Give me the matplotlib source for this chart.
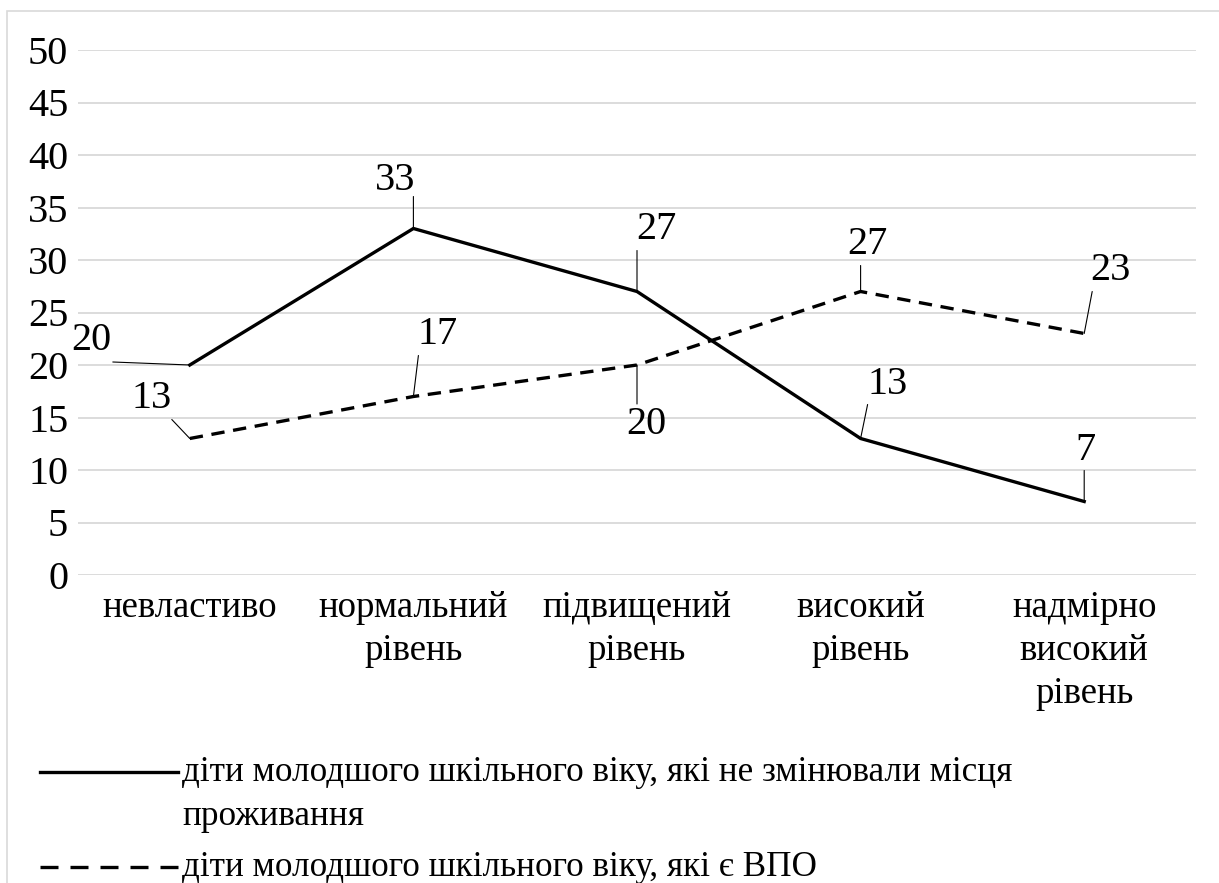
import matplotlib
matplotlib.use("Agg")
import matplotlib.pyplot as plt
from matplotlib.lines import Line2D
from matplotlib.patches import Rectangle

plt.rcParams['font.family'] = ['Liberation Serif', 'DejaVu Serif']

categories = ["невластиво", "нормальний\nрівень", "підвищений\nрівень", "високий\nрівень", "надмірно\nвисокий\nрівень"]
series_names = ["діти молодшого шкільного віку, які не змінювали місця\nпроживання",
                "діти молодшого шкільного віку, які є ВПО"]
resident = [20, 33, 27, 13, 7]
idp = [13, 17, 20, 27, 23]
yticks = [0, 5, 10, 15, 20, 25, 30, 35, 40, 45, 50]

W, H = 1219, 883
fig = plt.figure(figsize=(W / 100, H / 100), dpi=100)

def fx(px):
    return px / W

def fy(py):
    return 1 - py / H

# chart border (light gray)
fig.patches.append(Rectangle((fx(7), -0.2), 1.5, fy(11) + 0.2, transform=fig.transFigure,
                             fill=False, edgecolor='#d9d9d9', lw=1.2, zorder=0))

ax = fig.add_axes([fx(78), fy(575), fx(1196) - fx(78), fy(50) - fy(575)])
x = list(range(len(categories)))
ax.set_xlim(-0.5, len(categories) - 0.5)
ax.set_ylim(0, 50)
ax.set_yticks(yticks)
ax.set_yticklabels([str(v) for v in yticks], fontsize=29)
ax.set_xticks(x)
ax.set_xticklabels(categories, fontsize=26.5, linespacing=1.32)
ax.tick_params(axis='y', length=0, pad=7)
ax.tick_params(axis='x', length=0, pad=11)
for s in ax.spines.values():
    s.set_visible(False)
ax.grid(axis='y', color='#d9d9d9', lw=1.3)
ax.set_axisbelow(True)

lw = 2.4
ax.plot(x, resident, color='black', lw=lw, solid_joinstyle='miter', zorder=3)
ax.plot(x, idp, color='black', lw=lw, dashes=(4.0, 2.6), zorder=3)

# label offsets (pixels): text centre and leader-line end relative to the point
res_text = [(-98, 24), (-18, 48), (19, 62), (27, 54), (1, 51)]
res_lead = [(-77, 3), (0, 32), (0, 41), (7, 34), (0, 31)]
idp_text = [(-38, 40), (24, 62), (9, -60), (7, 47), (26, 63)]
idp_lead = [(-18, 19), (5, 41), (0, -39), (0, 26), (8, 42)]

for vals, toffs, loffs in [(resident, res_text, res_lead), (idp, idp_text, idp_lead)]:
    for i, v in enumerate(vals):
        ax.annotate(str(v), xy=(i, v), xytext=toffs[i], textcoords='offset pixels',
                    ha='center', va='center', fontsize=29, zorder=5)
        ax.annotate('', xy=(i, v), xytext=loffs[i], textcoords='offset pixels',
                    arrowprops=dict(arrowstyle='-', color='black', lw=0.8,
                                    shrinkA=0, shrinkB=0), zorder=4)

# legend (drawn manually so the key sits on the first text line)
leg_items = [(series_names[0], dict(color='black', lw=lw), 772),
             (series_names[1], dict(color='black', lw=lw, dashes=(5.4, 3.6)), 867)]
for label, style, ypx in leg_items:
    fig.add_artist(Line2D([fx(40), fx(178)], [fy(ypx), fy(ypx)], transform=fig.transFigure, **style))
    for k, line in enumerate(label.split("\n")):
        fig.text(fx(182), fy(ypx + 9 + 44 * k), line, fontsize=25.3, ha='left', va='baseline')

fig.savefig("out.png", dpi=100, facecolor='white')
